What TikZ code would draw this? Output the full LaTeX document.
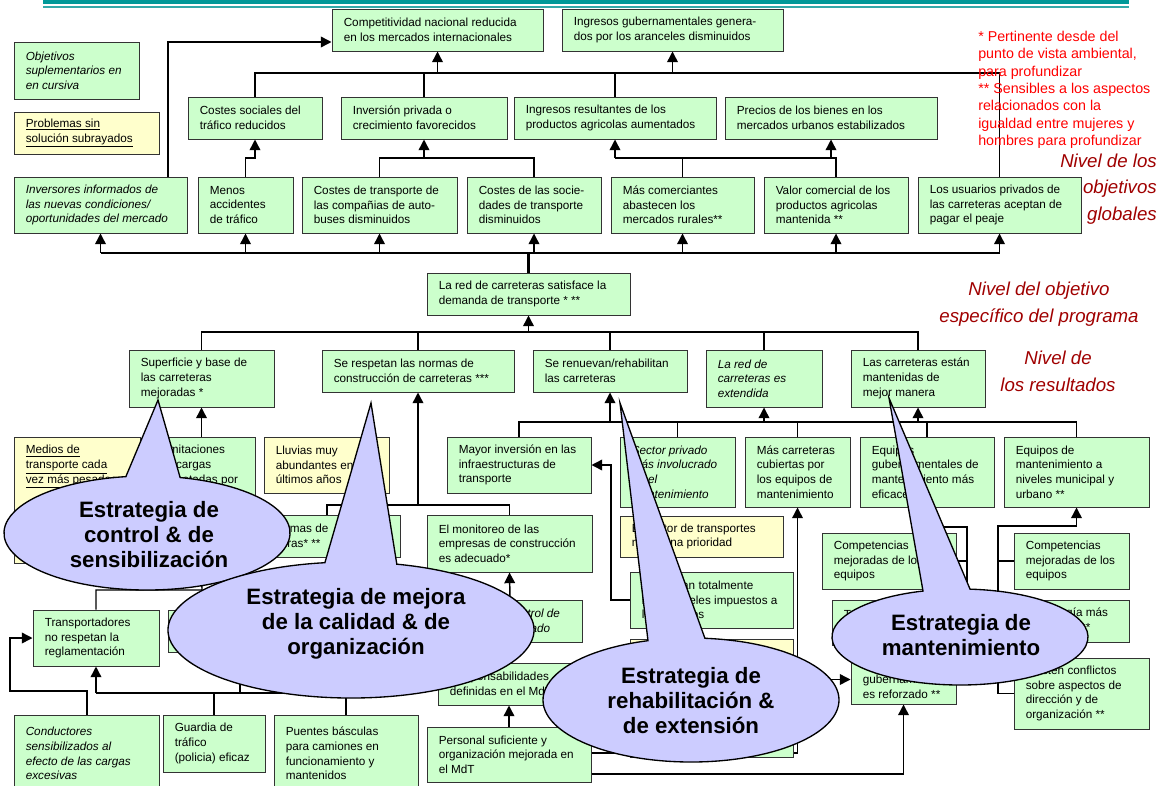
\documentclass[tikz,border=0pt]{standalone}
\usepackage{fontspec}
\setmainfont{Liberation Sans}
\usetikzlibrary{arrows.meta}
\definecolor{gfill}{HTML}{CCFFCC}
\definecolor{yfill}{HTML}{FFFFCC}
\definecolor{cfill}{HTML}{CCCCFF}
\definecolor{tealA}{HTML}{009999}
\definecolor{tealB}{HTML}{33AAAA}
\definecolor{lvlred}{HTML}{A00000}
\definecolor{notered}{HTML}{FF0000}
% #1 text options, #2 box style, #3 name, #4 x1, #5 y1, #6 x2, #7 y2, #8 text
\newcommand\bx[8][]{%
  \pgfmathsetmacro\bxw{(#6-#4)*0.75}%
  \pgfmathsetmacro\bxh{(#7-#5)*0.75}%
  \node[#2, minimum width=\bxw pt, minimum height=\bxh pt] (#3) at ({(#4+#6)/2},{(#5+#7)/2}) {};%
  \node[txt, anchor=west, #1] (#3t) at ([xshift=9pt]#3.west) {#8};%
}
\begin{document}
\begin{tikzpicture}[x=0.75pt,y=-0.75pt,
  gbox/.style={rectangle, draw=black!80, line width=0.75pt, fill=gfill, inner sep=0pt},
  ybox/.style={rectangle, draw=black!80, line width=0.75pt, fill=yfill, inner sep=0pt},
  txt/.style={inner sep=0pt, align=left, font=\fontsize{8.8}{11}\selectfont},
  ital/.style={font=\fontsize{8.8}{11}\selectfont\itshape},
  conn/.style={line width=1.1pt, draw=black},
  arr/.style={conn, -{Triangle[length=8pt,width=8pt]}},
  bubble/.style={draw=black, line width=1pt, fill=cfill},
  ctext/.style={align=center, inner sep=0pt, font=\fontsize{16.7}{18.75}\selectfont\bfseries},
  lvl/.style={inner sep=0pt, text=lvlred, font=\fontsize{14}{20}\selectfont\itshape},
]
\useasboundingbox (0,0) rectangle (1173,785);
\fill[white] (0,0) rectangle (1173,785);
\clip (0,0) rectangle (1173,785);

% header rule
\fill[tealA] (43,0) rectangle (1129,4);
\draw[tealB, line width=0.9pt] (43,7) -- (1129,7);

% ---------- boxes ----------
\bx[ital]{gbox}{leg1}{14}{42}{139}{99}{Objetivos\\suplementarios en\\en cursiva}
\bx{ybox}{leg2}{14}{112}{159}{154}{\underline{Problemas sin}\\\underline{solución subrayados}}

\bx{gbox}{g1}{332}{9}{543}{51}{Competitividad nacional reducida\\en los mercados internacionales}
\bx{gbox}{g2}{562}{9}{783}{51}{Ingresos gubernamentales genera-\\dos por los aranceles disminuidos}

\bx{gbox}{s1}{188}{97}{322}{139}{Costes sociales del\\tráfico reducidos}
\bx{gbox}{s2}{341}{97}{507}{139}{Inversión privada o\\crecimiento favorecidos}
\bx{gbox}{s3}{514}{97}{716}{139}{Ingresos resultantes de los\\productos agricolas aumentados}
\bx{gbox}{s4}{725}{97}{937}{139}{Precios de los bienes en los\\mercados urbanos estabilizados}

\bx[ital]{gbox}{t1}{14}{177}{187}{233}{Inversores informados de\\las nuevas condiciones/\\oportunidades del mercado}
\bx{gbox}{t2}{198}{177}{293}{233}{Menos\\accidentes\\de tráfico}
\bx{gbox}{t3}{302}{177}{457}{233}{Costes de transporte de\\las compañias de auto-\\buses disminuidos}
\bx{gbox}{t4}{467}{177}{601}{233}{Costes de las socie-\\dades de transporte\\disminuidos}
\bx{gbox}{t5}{611}{177}{754}{233}{Más comerciantes\\abastecen los\\mercados rurales**}
\bx{gbox}{t6}{764}{177}{908}{233}{Valor comercial de los\\productos agricolas\\mantenida **}
\bx{gbox}{t7}{918}{177}{1081}{233}{Los usuarios privados de\\las carreteras aceptan de\\pagar el peaje}

\bx{gbox}{pur}{427}{273}{630}{315}{La red de carreteras satisface la\\demanda de transporte * **}

\bx{gbox}{r1}{129}{350}{274}{407}{Superficie y base de\\las carreteras\\mejoradas *}
\bx{gbox}{r2}{322}{350}{514}{392}{Se respetan las normas de\\construcción de carreteras ***}
\bx{gbox}{r3}{533}{350}{687}{392}{Se renuevan/rehabilitan\\las carreteras}
\bx[ital]{gbox}{r4}{706}{350}{822}{407}{La red de\\carreteras es\\extendida}
\bx{gbox}{r5}{851}{350}{985}{407}{Las carreteras están\\mantenidas de\\mejor manera}

\bx{ybox}{a1}{14}{437}{140}{563}{}
\node[txt, anchor=north west] (a1x) at ([xshift=9pt,yshift=-6.5pt]a1.north west) {\underline{Medios de}\\\underline{transporte cada}\\\underline{vez más pesados}};
\bx{gbox}{a2}{148}{437}{255}{522}{}
\node[txt, anchor=north west] (a2x) at ([xshift=9pt,yshift=-6.5pt]a2.north west) {Limitaciones\\de cargas\\respetadas por};
\bx{ybox}{a3}{264}{437}{389}{493}{Lluvias muy\\abundantes en los\\últimos años}
\bx{gbox}{a4}{447}{437}{591}{493}{Mayor inversión en las\\infraestructuras de\\transporte}
\bx[ital]{gbox}{a5}{620}{437}{735}{507}{Sector privado\\más involucrado\\en el\\mantenimiento}
\bx{gbox}{a6}{745}{437}{850}{507}{Más carreteras\\cubiertas por\\los equipos de\\mantenimiento}
\bx{gbox}{a7}{860}{437}{994}{507}{Equipos\\gubernamentales de\\mantenimiento más\\eficaces}
\bx{gbox}{a8}{1004}{437}{1149}{507}{Equipos de\\mantenimiento a\\niveles municipal y\\urbano **}

\bx{gbox}{b1}{239}{515}{400}{557}{Las normas de\\carreteras* **}
\bx{gbox}{b2}{427}{515}{592}{572}{El monitoreo de las\\empresas de construcción\\es adecuado*}
\bx[ital]{gbox}{b3}{438}{600}{582}{642}{Mayor autocontrol de\\la calidad realizado}
\bx{gbox}{b4}{438}{663}{580}{705}{Responsabilidades\\definidas en el MdT}
\bx{gbox}{b5}{427}{727}{591}{782}{Personal suficiente y\\organización mejorada en\\el MdT}

\bx{gbox}{c1}{33}{610}{159}{666}{Transportadores\\no respetan la\\reglamentación}
\bx{gbox}{c2}{168}{610}{290}{652}{}
\bx[ital]{gbox}{c3}{14}{715}{159}{792}{Conductores\\sensibilizados al\\efecto de las cargas\\excesivas}
\bx{gbox}{c4}{163}{715}{265}{772}{Guardia de\\tráfico\\(policia) eficaz}
\bx{gbox}{c5}{274}{715}{418}{792}{Puentes básculas\\para camiones en\\funcionamiento y\\mantenidos}

\bx{ybox}{d1}{620}{516}{783}{557}{El sector de transportes\\no es una prioridad}
\bx{gbox}{d2}{630}{572}{793}{628}{Se cobran totalmente\\los aranceles impuestos a\\los usuarios}
\bx{ybox}{d3}{630}{639}{793}{663}{}
\bx{gbox}{d4}{630}{668}{793}{757}{}

\bx{gbox}{e1}{822}{533}{956}{589}{Competencias\\mejoradas de los\\equipos}
\bx{gbox}{e2}{832}{600}{956}{645}{Tecnología más\\apropiada **}
\bx{gbox}{e3}{851}{655}{956}{704}{Control\\gubernamental\\es reforzado **}
\bx{gbox}{f1}{1014}{533}{1129}{589}{Competencias\\mejoradas de los\\equipos}
\bx{gbox}{f2}{1014}{600}{1129}{642}{Tecnología más\\apropiada **}
\bx{gbox}{f3}{1014}{658}{1149}{729}{Existen conflictos\\sobre aspectos de\\dirección y de\\organización **}

% ---------- connectors ----------
\draw[conn] (s1.north) -- (s1.north |- 0,73) -- (t7.north |- 0,73) -- (t7.north);
\draw[conn] (s2.north) -- (s2.north |- 0,73);
\draw[conn] (s3.north) -- (s3.north |- 0,73);
\draw[arr] (g1.south |- 0,73) -- (g1.south);
\draw[arr] (g2.south |- 0,73) -- (g2.south);
\draw[arr] (t1.north -| 168,0) |- (g1.west |- 0,42);
\draw[arr] (t2.north) |- (s1.south |- 0,158) -- (s1.south);
\draw[conn] (t3.north) |- (t4.north |- 0,158) -- (t4.north);
\draw[arr] (s2.south |- 0,158) -- (s2.south);
\draw[conn] (t5.north) -- (t5.north |- 0,158);
\draw[conn] (s3.south |- 0,158) -- (t6.north |- 0,158) -- (t6.north);
\draw[arr] (s3.south |- 0,158) -- (s3.south);
\draw[arr] (s4.south |- 0,158) -- (s4.south);

\draw[conn] (t1.south |- 0,253) -- (t7.south |- 0,253);
\draw[conn, line width=1.6pt] (pur.north) -- (pur.north |- 0,253);
\foreach \n in {t1,t2,t3,t4,t5,t6,t7} \draw[arr] (\n.south |- 0,253) -- (\n.south);

\draw[arr] (pur.south |- 0,332) -- (pur.south);
\draw[conn] (r1.north) |- (r5.north |- 0,332) -- (r5.north);
\foreach \n in {r2,r3,r4} \draw[conn] (\n.north) -- (\n.north |- 0,332);

\draw[arr] (a2.north) -- (r1.south);
\draw[arr] (r2.south |- 0,505) -- (r2.south);
\draw[conn] (b1.north -| 327,0) |- (b2.north |- 0,505) -- (b2.north);

\draw[conn] (a4.north) |- (a8.north |- 0,422) -- (a8.north);
\foreach \n in {a5,a6,a7} \draw[conn] (\n.north) -- (\n.north |- 0,422);
\foreach \n in {r3,r4,r5} \draw[arr] (\n.south |- 0,422) -- (\n.south);

\draw[arr] (d2.west) -| (611,465) -- (a4.east);
\draw[arr] (b3.north) -- (b2.south);
\draw[arr] (b4.north) -- (b3.south);
\draw[arr] (b5.north) -- (b4.south);
\draw[arr] (b5.east |- 0,753) -| (a6.south);
\draw[arr] (b5.east |- 0,774) -| (e3.south);
\draw[arr] (d4.east |- e3.west) -- (e3.west);

\draw[conn] (e1.east) -- (e1.east -| 967,0);
\draw[conn] (e2.east) -- (e2.east -| 967,0);
\draw[arr] (e3.east) -| (967,527) -| (a7.south);
\draw[conn] (f1.west) -- (f1.west -| 998,0);
\draw[conn] (f2.west) -- (f2.west -| 998,0);
\draw[arr] (f3.west) -| (998,526) -| (a8.south);

\draw[arr] (c3.north -| 87,0) |- (10,691) |- (c1.west);
\draw[conn] (c5.north) |- (c1.south |- 0,693);
\draw[conn] (c4.north) -- (c4.north |- 0,693);
\draw[arr] (c1.south |- 0,693) -- (c1.south);
\coordinate (j1) at (240,693);
\draw[arr] (j1) -- (c2.south -| j1);
\draw[arr] (c1.north) |- (202,590) -- (a2.south);

% redraw boxes crossed by lines
\node[gbox, minimum width=122.25pt, minimum height=66.75pt] (d4b) at (d4) {};

% ---------- notes and levels ----------
\node[inner sep=0pt, anchor=north west, align=left, text=notered, font=\fontsize{10.7}{13}\selectfont] (note) at (978,31)
 {* Pertinente desde del\\punto de vista ambiental,\\para profundizar\\** Sensibles a los aspectos\\relacionados con la\\igualdad entre mujeres y\\hombres para profundizar};
\node[lvl, anchor=east, align=right] (lv1) at (1157,189) {Nivel de los\\objetivos\\globales};
\node[lvl, align=center] (lv2) at (1039,304) {Nivel del objetivo\\específico del programa};
\node[lvl, align=center] (lv3) at (1058,371) {Nivel de\\los resultados};

% ---------- strategy callouts ----------
\draw[bubble] (147,533) ++(-76.6:143 and 57) arc[start angle=-76.6, end angle=261.5, x radius=143, y radius=57] -- (158,400) -- cycle;
\node[ctext] (ctl) at (149,535) {Estrategia de\\control \& de\\sensibilización};

\draw[bubble] (351,630) ++(-75.5:183 and 68) arc[start angle=-75.5, end angle=261.8, x radius=183, y radius=68] -- (371,403) -- cycle;
\node[ctext] (mej) at (356,624) {Estrategia de mejora\\de la calidad \& de\\organización};

\draw[bubble] (691,700) ++(-84.6:148 and 62) arc[start angle=-84.6, end angle=253.1, x radius=148, y radius=62] -- (620,403) -- cycle;
\node[ctext] (reh) at (691,701) {Estrategia de\\rehabilitación \&\\de extensión};

\draw[bubble] (960,637) ++(-85.5:128 and 48) arc[start angle=-85.5, end angle=253.2, x radius=128, y radius=48] -- (889,398) -- cycle;
\node[ctext] (mnt) at (961,635) {Estrategia de\\mantenimiento};
\end{tikzpicture}
\end{document}
